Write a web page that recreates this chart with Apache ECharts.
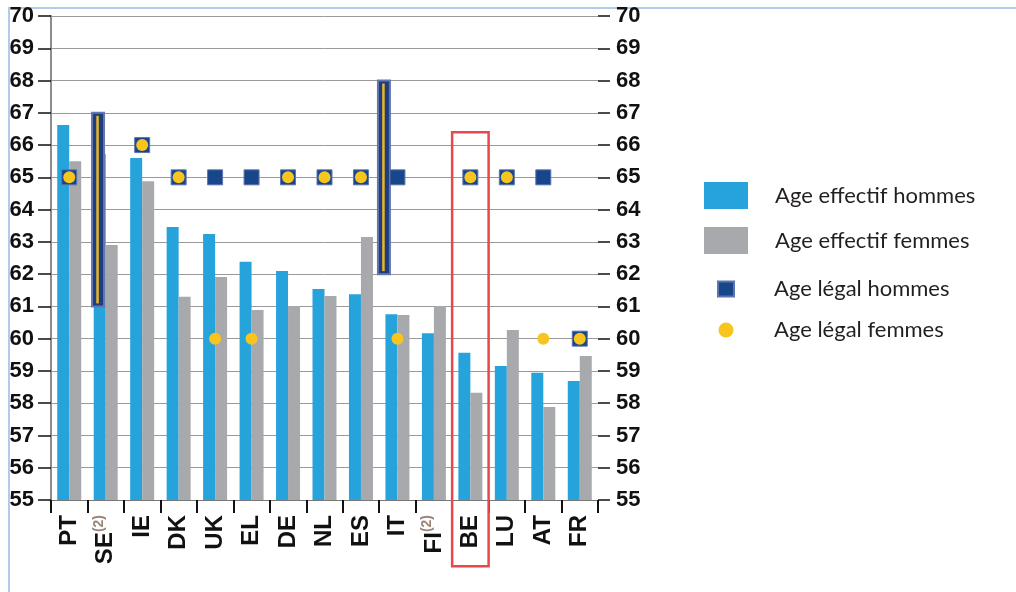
<!DOCTYPE html>
<html><head><meta charset="utf-8">
<script src="https://cdn.jsdelivr.net/npm/echarts@6/dist/echarts.min.js"></script>
<style>
html,body{margin:0;padding:0;background:#fff;}
#frame{position:absolute;left:8px;top:7px;width:1010px;height:590px;border-top:2px solid #b3cbe8;border-left:2px solid #b3cbe8;}
#chart{position:absolute;left:0;top:0;width:1016px;height:592px;}
</style></head><body>
<div id="frame"></div>
<div id="chart"></div>
<script>
// ---- data ----
const categories = ['PT','SE','IE','DK','UK','EL','DE','NL','ES','IT','FI','BE','LU','AT','FR'];
const noteCats = ['SE','FI'];
const noteText = '(2)';
const effMen   = [66.62,65.72,65.60,63.46,63.24,62.38,62.10,61.54,61.38,60.76,60.17,59.56,59.15,58.94,58.69];
const effWomen = [65.50,62.90,64.88,61.30,61.91,60.89,61.01,61.32,63.15,60.73,61.01,58.32,60.27,57.88,59.46];
const legalMen   = [65,null,66,65,65,65,65,65,65,65,null,65,65,65,60];
const legalWomen = [65,null,66,65,60,60,65,65,65,60,null,65,65,60,60];
const rangeCats = ['SE','FI'];
const rangeLow  = [61,62];
const rangeHigh = [67,68];
const yMin = 55, yMax = 70, yStep = 1;
const seriesNames = ['Age effectif hommes','Age effectif femmes','Age légal hommes','Age légal femmes'];
const highlightCat = 'BE';
const highlightTop = 66.4, highlightBottom = 52.95;

// ---- styles ----
const rangeShift = [-0.21, -1.37]; // horizontal shift of range bars, in category widths
const axisFont = 'Liberation Sans';
const legendFont = 'Lato';

const chart = echarts.init(document.getElementById('chart'), null, {renderer:'canvas'});

const yAxisBase = {
  type:'value', min:yMin, max:yMax, interval:yStep,
  axisLabel:{fontFamily:axisFont, fontWeight:'bold', fontSize:22, color:'#111'},
};

const option = {
  animation:false,
  grid:{left:51, right:418, top:16, bottom:92, containLabel:false},
  legend:[
    {
      data:[seriesNames[0], seriesNames[1]],
      orient:'vertical', left:704, top:182, itemWidth:44, itemHeight:27, itemGap:18,
      padding:0, icon:'rect',
      textStyle:{fontFamily:legendFont, fontSize:22, color:'#231f20', padding:[0,0,0,22]}
    },
    {
      data:[{name:seriesNames[2], icon:'rect'}, {name:seriesNames[3], icon:'circle'}],
      orient:'vertical', left:717, top:278, itemWidth:16, itemHeight:15, itemGap:19,
      padding:0,
      textStyle:{fontFamily:legendFont, fontSize:22, color:'#231f20', padding:[0,0,0,35]}
    }
  ],
  xAxis:{
    type:'category', data:categories,
    axisLine:{show:true, lineStyle:{color:'#777', width:1}},
    axisTick:{show:true, length:13, interval:0, lineStyle:{color:'#111', width:2}},
    axisLabel:{
      interval:0, rotate:90, margin:15,
      formatter:v => noteCats.includes(v) ? '{a|'+v+'}{n|'+noteText+'}' : '{a|'+v+'}',
      rich:{
        a:{fontFamily:axisFont, fontWeight:'bold', fontSize:24, color:'#111', lineHeight:28},
        n:{fontFamily:axisFont, fontWeight:'bold', fontSize:14, color:'#9c8577', verticalAlign:'top', lineHeight:14}
      }
    },
    splitLine:{show:false}
  },
  yAxis:[
    Object.assign({}, yAxisBase, {
      position:'left',
      axisLine:{show:true, lineStyle:{color:'#8c8c8c', width:2}},
      axisTick:{show:true, length:13, lineStyle:{color:'#111', width:1.5}},
      axisLabel:Object.assign({}, yAxisBase.axisLabel, {margin:17}),
      splitLine:{show:true, lineStyle:{color:'#9a9a9a', width:1}}
    }),
    Object.assign({}, yAxisBase, {
      position:'right',
      axisLine:{show:false},
      axisTick:{show:true, length:12, lineStyle:{color:'#111', width:1.5}},
      axisLabel:Object.assign({}, yAxisBase.axisLabel, {margin:18}),
      splitLine:{show:false}
    })
  ],
  series:[
    {name:seriesNames[0], type:'bar', data:effMen, barWidth:12, barGap:'0%',
     itemStyle:{color:'#27a3dc'}, z:2},
    {name:seriesNames[1], type:'bar', data:effWomen, barWidth:12, barGap:'0%',
     itemStyle:{color:'#a7a9ac'}, z:2},
    {name:'range', type:'custom',
     data:rangeCats.map((c,i)=>[c, rangeLow[i], rangeHigh[i]]),
     encode:{x:0, y:[1,2]}, z:5,
     renderItem:(params, api) => {
       const idx = api.value(0);
       const lo = api.coord([idx, api.value(1)]);
       const hi = api.coord([idx, api.value(2)]);
       const bw = api.size([1,0])[0];
       const cx = lo[0] + rangeShift[params.dataIndex]*bw;
       const w = 12;
       return {type:'group', children:[
         {type:'rect', shape:{x:cx-w/2, y:hi[1], width:w, height:lo[1]-hi[1]},
          style:{fill:'#203d7e', stroke:'#6378b0', lineWidth:2}},
         {type:'line', shape:{x1:cx-0.5, y1:hi[1]+3, x2:cx-0.5, y2:lo[1]-3},
          style:{stroke:'#e8b826', lineWidth:2.5}}
       ]};
     }},
    {name:seriesNames[2], type:'scatter', data:legalMen, symbol:'rect', symbolSize:15,
     itemStyle:{color:'#17478a', borderColor:'#5e74ae', borderWidth:1, opacity:1}, z:6},
    {name:seriesNames[3], type:'scatter', data:legalWomen, symbol:'circle', symbolSize:12,
     itemStyle:{color:'#f7c51e', opacity:1}, z:7}
  ]
};
chart.setOption(option);

// highlight box around one category, positioned through the axes
const cx = chart.convertToPixel({xAxisIndex:0}, highlightCat);
const i = categories.indexOf(highlightCat);
const bw = chart.convertToPixel({xAxisIndex:0}, categories[i+1]) - cx;
const yTop = chart.convertToPixel({yAxisIndex:0}, highlightTop);
const yBot = chart.convertToPixel({yAxisIndex:0}, highlightBottom);
chart.setOption({graphic:[{
  type:'rect', z:100,
  shape:{x:cx-bw/2, y:yTop, width:bw, height:yBot-yTop},
  style:{fill:'none', stroke:'#e8484b', lineWidth:2.5}
}]});
</script>
</body></html>
